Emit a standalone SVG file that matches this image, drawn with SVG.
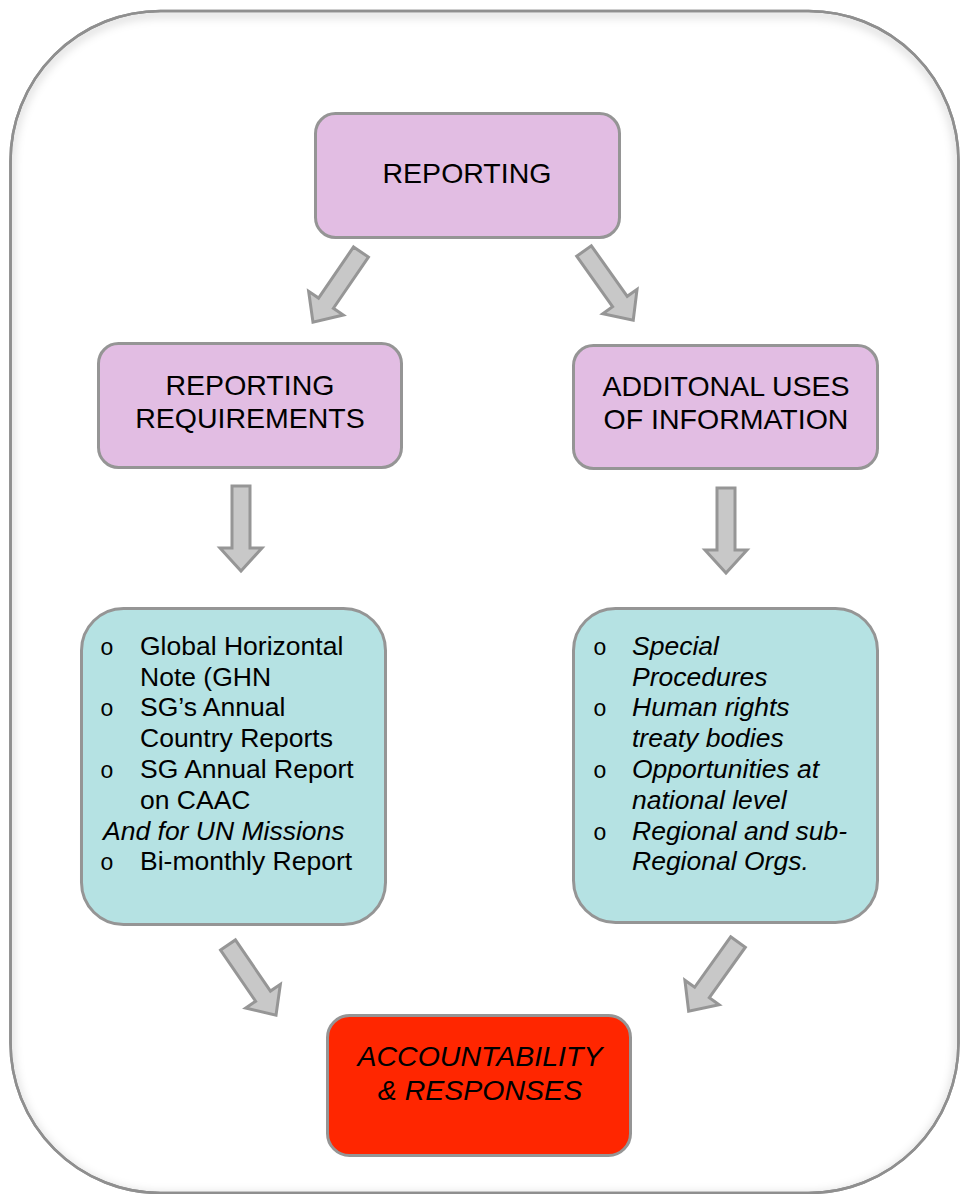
<svg xmlns="http://www.w3.org/2000/svg" width="960" height="1194" viewBox="0 0 960 1194">
  <defs>
    <style>
      .frame { fill: #ffffff; stroke: #8f8f8f; stroke-width: 2.5; }
      .box { stroke: #959595; stroke-width: 3; }
      .purple { fill: #e2bde3; }
      .cyan { fill: #b5e2e3; }
      .red { fill: #ff2600; }
      .arrow { fill: #c8c8c8; stroke: #969696; stroke-width: 3; stroke-linejoin: miter; }
      .head { font-family: "Liberation Sans", Arial, sans-serif; font-size: 28.5px; fill: #000000; text-anchor: middle; }
      .body { font-family: "Liberation Sans", Arial, sans-serif; font-size: 26.5px; fill: #000000; }
      .bullet { font-family: "Liberation Mono", "Courier New", monospace; font-size: 23px; fill: #000000; }
      .it { font-style: italic; }
    </style>
    <clipPath id="frameClip">
      <rect x="10.5" y="11" width="948" height="1182" rx="150" ry="150"/>
    </clipPath>
    <filter id="soft" x="-5%" y="-5%" width="110%" height="110%">
      <feGaussianBlur stdDeviation="4"/>
    </filter>
    <polygon id="blockArrow" points="-9,0 9,0 9,62 21,62 0,85 -21,62 -9,62"/>
  </defs>

  <rect x="0" y="0" width="960" height="1194" fill="#ffffff"/>

  <!-- outer rounded frame with a faint inner shadow -->
  <g id="frame">
    <rect class="frame" x="10.5" y="11" width="948" height="1182" rx="150" ry="150"/>
    <g clip-path="url(#frameClip)">
      <rect x="10.5" y="14" width="948" height="1182" rx="150" ry="150" fill="none" stroke="#000000" stroke-opacity="0.12" stroke-width="8" filter="url(#soft)"/>
    </g>
    <rect x="10.5" y="11" width="948" height="1182" rx="150" ry="150" fill="none" stroke="#8f8f8f" stroke-width="2.5"/>
  </g>

  <!-- connectors -->
  <g id="connectors">
    <use href="#blockArrow" class="arrow" transform="translate(361,252) rotate(34.4)"/>
    <use href="#blockArrow" class="arrow" transform="translate(584,251) rotate(-35.4)"/>
    <use href="#blockArrow" class="arrow" transform="translate(241,486)"/>
    <use href="#blockArrow" class="arrow" transform="translate(726,488)"/>
    <use href="#blockArrow" class="arrow" transform="translate(228,945) rotate(-34.4)"/>
    <use href="#blockArrow" class="arrow" transform="translate(738,942) rotate(35.5)"/>
  </g>

  <g id="reporting">
    <rect class="box purple" x="315.5" y="113.5" width="304" height="124" rx="20"/>
    <text class="head" x="467" y="183">REPORTING</text>
  </g>

  <g id="reporting-requirements">
    <rect class="box purple" x="98.5" y="343.5" width="303" height="124" rx="20"/>
    <text class="head" x="250" y="395">REPORTING</text>
    <text class="head" x="250" y="428">REQUIREMENTS</text>
  </g>

  <g id="additional-uses">
    <rect class="box purple" x="573.5" y="345.5" width="304" height="123" rx="20"/>
    <text class="head" x="726" y="396">ADDITONAL USES</text>
    <text class="head" x="726" y="429">OF INFORMATION</text>
  </g>

  <g id="requirements-list">
    <rect class="box cyan" x="81.5" y="608.5" width="304" height="316" rx="42"/>
    <text class="bullet" x="100" y="655">o</text>
    <text class="body" x="140" y="655">Global Horizontal</text>
    <text class="body" x="140" y="686">Note (GHN</text>
    <text class="bullet" x="100" y="716">o</text>
    <text class="body" x="140" y="716">SG’s Annual</text>
    <text class="body" x="140" y="747">Country Reports</text>
    <text class="bullet" x="100" y="778">o</text>
    <text class="body" x="140" y="778">SG Annual Report</text>
    <text class="body" x="140" y="809">on CAAC</text>
    <text class="body it" x="103" y="840">And for UN Missions</text>
    <text class="bullet" x="100" y="870">o</text>
    <text class="body" x="140" y="870">Bi-monthly Report</text>
  </g>

  <g id="uses-list">
    <rect class="box cyan" x="573.5" y="608.5" width="304" height="314" rx="42"/>
    <text class="bullet" x="593" y="655">o</text>
    <text class="body it" x="632" y="655">Special</text>
    <text class="body it" x="632" y="686">Procedures</text>
    <text class="bullet" x="593" y="716">o</text>
    <text class="body it" x="632" y="716">Human rights</text>
    <text class="body it" x="632" y="747">treaty bodies</text>
    <text class="bullet" x="593" y="778">o</text>
    <text class="body it" x="632" y="778">Opportunities at</text>
    <text class="body it" x="632" y="809">national level</text>
    <text class="bullet" x="593" y="840">o</text>
    <text class="body it" x="632" y="840">Regional and sub-</text>
    <text class="body it" x="632" y="870">Regional Orgs.</text>
  </g>

  <g id="accountability">
    <rect class="box red" x="327.5" y="1015.5" width="303" height="140" rx="22"/>
    <text class="head it" x="480" y="1066">ACCOUNTABILITY</text>
    <text class="head it" x="480" y="1100">&amp; RESPONSES</text>
  </g>
</svg>
